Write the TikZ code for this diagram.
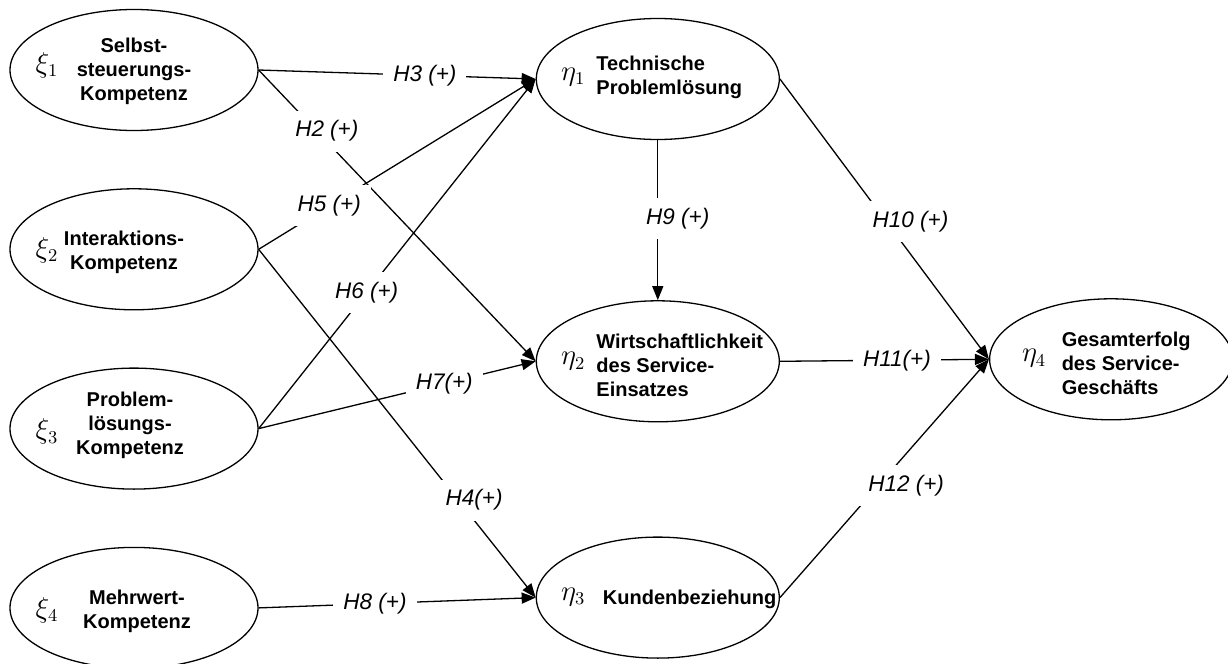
\documentclass[tikz,border=0pt]{standalone}
\usepackage{fontspec}
\setmainfont{Liberation Sans}
\usetikzlibrary{positioning, arrows.meta, calc, shapes.geometric}

\begin{document}
\begin{tikzpicture}[x=0.5pt, y=-0.5pt, line width=0.65pt, >={Triangle[length=7pt, width=5.5pt]},
  lv/.style={draw, ellipse, minimum width=124pt, minimum height=60.5pt, inner sep=0pt},
  lvn/.style={lv, minimum width=121.5pt},
  gk/.style={inner sep=0pt, font=\fontsize{13.5}{15}\selectfont},
  txt/.style={inner sep=0pt, align=center, font=\fontsize{10}{12}\selectfont\bfseries},
  txtl/.style={txt, align=left, anchor=west},
  hyp/.style={fill=white, inner sep=5pt, font=\fontsize{11.25}{13}\selectfont\itshape}]
  \useasboundingbox (0,0) rectangle (1228,664);
  % exogenous constructs
  \node[lv] (x1) at (134,70) {};
  \node[lv, below=28.5pt of x1] (x2) {};
  \node[lv, below=28.5pt of x2] (x3) {};
  \node[lv, below=28.5pt of x3] (x4) {};
  % endogenous constructs
  \node[lvn, right=138.5pt of x1, yshift=-4.5pt] (e1) {};
  \node[lvn, below=80pt of e1] (e2) {};
  \node[lvn, below=57pt of e2] (e3) {};
  \node[lvn, right=104.5pt of e2, yshift=1pt] (e4) {};
  \node[gk] (x1g) at ($(x1)+(-87,-5)$) {$\xi_1$};
  \node[txt] (x1t) at ($(x1)+(0,1)$) {Selbst-\\steuerungs-\\Kompetenz};
  \node[gk] (x2g) at ($(x2)+(-87,1)$) {$\xi_2$};
  \node[txt] (x2t) at ($(x2)+(-10,3)$) {Interaktions-\\Kompetenz};
  \node[gk] (x3g) at ($(x3)+(-87,3)$) {$\xi_3$};
  \node[txt] (x3t) at ($(x3)+(-4,-3)$) {Problem-\\lösungs-\\Kompetenz};
  \node[gk] (x4g) at ($(x4)+(-87,2)$) {$\xi_4$};
  \node[txt] (x4t) at ($(x4)+(3,3)$) {Mehrwert-\\Kompetenz};
  \node[gk] (e1g) at ($(e1)+(-84.5,-2)$) {$\eta_1$};
  \node[txtl] (e1t) at ($(e1)+(-62,-2)$) {Technische\\Problemlösung};
  \node[gk] (e2g) at ($(e2)+(-84.5,0)$) {$\eta_2$};
  \node[txtl] (e2t) at ($(e2)+(-62,4)$) {Wirtschaftlichkeit\\des Service-\\Einsatzes};
  \node[gk] (e3g) at ($(e3)+(-84.5,-1)$) {$\eta_3$};
  \node[txtl] (e3t) at ($(e3)+(-55.5,2)$) {Kundenbeziehung};
  \node[gk] (e4g) at ($(e4)+(-77,-1)$) {$\eta_4$};
  \node[txtl] (e4t) at ($(e4)+(-50,4)$) {Gesamterfolg\\des Service-\\Geschäfts};
  % hypotheses
  \draw[->] (x1.east) -- node[hyp, pos=.6] {H3 (+)} (e1.west);
  \draw[->] (x1.east) -- node[hyp, pos=.21, xshift=5pt] {H2 (+)} (e2.west);
  \draw[->] (x2.east) -- node[hyp, pos=.255] {H5 (+)} (e1.west);
  \draw[->] (x2.east) -- node[hyp, pos=.72, xshift=8pt] {H4(+)} (e3.west);
  \draw[->] (x3.east) -- node[hyp, pos=.39] {H6 (+)} (e1.west);
  \draw[->] (x3.east) -- node[hyp, pos=.67] {H7(+)} (e2.west);
  \draw[->] (x4.east) -- node[hyp, pos=.42] {H8 (+)} (e3.west);
  \draw[->] (e1.south) -- node[hyp, pos=.49, xshift=10pt] {H9 (+)} (e2.north);
  \draw[->] (e1.east) -- node[hyp, pos=.51, xshift=12pt] {H10 (+)} (e4.west);
  \draw[->] (e2.east) -- node[hyp, pos=.56] {H11(+)} (e4.west);
  \draw[->] (e3.east) -- node[hyp, pos=.47, xshift=14pt] {H12 (+)} (e4.west);
\end{tikzpicture}
\end{document}
